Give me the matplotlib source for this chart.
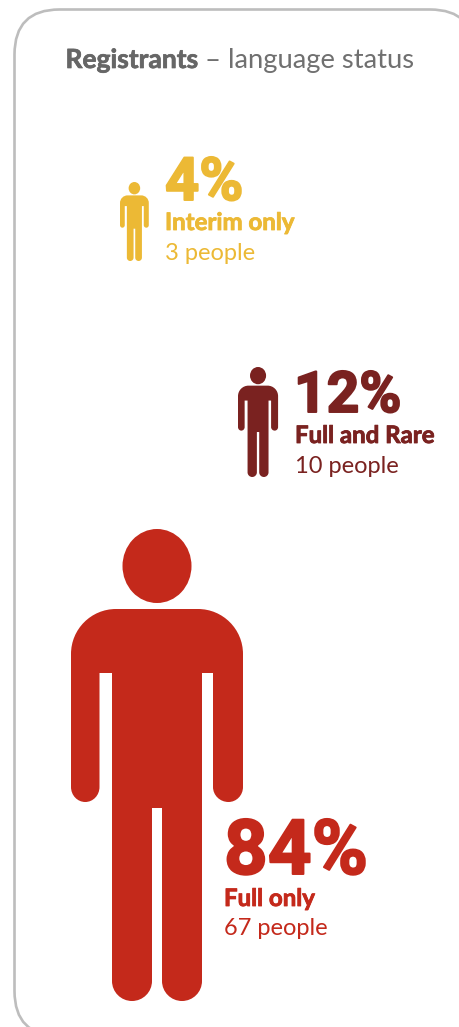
import matplotlib
matplotlib.use("Agg")
import matplotlib.pyplot as plt
import matplotlib.patheffects as pe
from matplotlib.patches import Ellipse, FancyBboxPatch, PathPatch
from matplotlib.path import Path

percents = ["4%", "12%", "84%"]
statuses = ["Interim only", "Full and Rare", "Full only"]
people = [3, 10, 67]
colors = ["#ECB935", "#7A2220", "#C4291B"]

# pictogram placement: left, top, height of each person; then text x and baselines
person_boxes = [(120, 182, 79), (238, 367, 110), (71, 529, 472)]
text_x = [165, 295, 224]
pct_x = [165, 294, 224]
pct_base = [200, 412, 874]
name_base = [230, 443, 906]
count_base = [260, 473, 935]
pct_size = [43, 41, 55]

K = 0.5523


def rounded(verts, codes, p0, p1, c):
    # quarter-circle from p0 to p1 around the centre c
    verts += [(p0[0] + K * (p1[0] - c[0]), p0[1] + K * (p1[1] - c[1])),
              (p1[0] + K * (p0[0] - c[0]), p1[1] + K * (p0[1] - c[1])),
              p1]
    codes += [Path.CURVE4] * 3


def body_path():
    v, c = [(0, 125)], [Path.MOVETO]
    rounded(v, c, (0, 125), (45, 80), (45, 125))
    v.append((127, 80)); c.append(Path.LINETO)
    rounded(v, c, (127, 80), (172, 125), (127, 125))
    v.append((172, 258)); c.append(Path.LINETO)
    rounded(v, c, (172, 258), (157.5, 273), (157.5, 258))
    rounded(v, c, (157.5, 273), (142, 258), (157.5, 258))
    for p in [(142, 144), (131, 144), (131, 452)]:
        v.append(p); c.append(Path.LINETO)
    rounded(v, c, (131, 452), (111, 472), (111, 452))
    rounded(v, c, (111, 472), (91, 452), (111, 452))
    for p in [(91, 279), (81, 279), (81, 452)]:
        v.append(p); c.append(Path.LINETO)
    rounded(v, c, (81, 452), (61, 472), (61, 452))
    rounded(v, c, (61, 472), (41, 452), (61, 452))
    for p in [(41, 144), (28.5, 144), (28.5, 258)]:
        v.append(p); c.append(Path.LINETO)
    rounded(v, c, (28.5, 258), (14.25, 273), (14.25, 258))
    rounded(v, c, (14.25, 273), (0, 258), (14.25, 258))
    v.append((0, 125)); c.append(Path.CLOSEPOLY)
    return v, c


def draw_person(ax, left, top, height, color):
    s = height / 472
    ax.add_patch(Ellipse((left + 86 * s, top + 37 * s), 69 * s, 74 * s, fc=color, ec="none"))
    v, c = body_path()
    v = [(left + x * s, top + y * s) for x, y in v]
    ax.add_patch(PathPatch(Path(v, c), fc=color, ec="none"))


def thick(color, w):
    return [pe.withStroke(linewidth=w, foreground=color, capstyle="round", joinstyle="round")]


fig = plt.figure(figsize=(4.6, 10.27), dpi=100)
ax = fig.add_axes([0, 0, 1, 1])
ax.set_xlim(0, 460)
ax.set_ylim(1027, 0)
ax.axis("off")

ax.add_patch(FancyBboxPatch((14.5 + 45, 9.5 + 45), 475 - 14.5 - 90, 1036 - 9.5 - 90,
                            boxstyle="round,pad=45,rounding_size=45",
                            fc="white", ec="#BDBDBD", lw=1.9, clip_on=True))

ax.text(65.5, 68, "Registrants", family="Lato", weight="bold", fontsize=19, color="#666666",
        path_effects=thick("#666666", 0.5))
ax.text(205, 68, "\u2013 language status", family="Lato", fontsize=19.7, color="#707070")

for i, pct in enumerate(percents):
    draw_person(ax, *person_boxes[i], colors[i])
    ax.text(pct_x[i], pct_base[i], pct, family="Roboto", weight="bold", fontsize=pct_size[i],
            color=colors[i], path_effects=thick(colors[i], 1.4))
    ax.text(text_x[i], name_base[i], statuses[i], family="Lato", weight="bold", fontsize=17.3,
            color=colors[i], path_effects=thick(colors[i], 0.6))
    ax.text(text_x[i], count_base[i], f"{people[i]} people", family="Lato", fontsize=17,
            color=colors[i])

fig.savefig("out.png", dpi=100)
